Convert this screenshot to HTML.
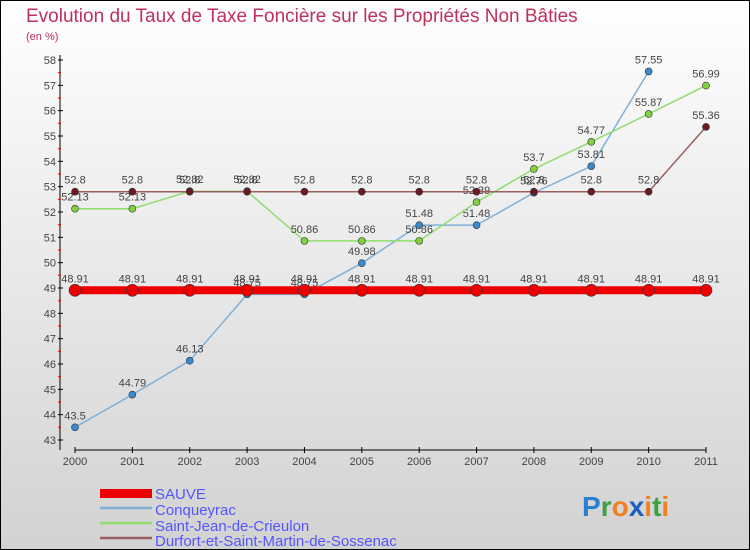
<!DOCTYPE html>
<html><head><meta charset="utf-8"><style>
body{margin:0}
#c{width:750px;height:550px;position:relative;overflow:hidden;font-family:"Liberation Sans",sans-serif}
</style></head><body>
<div id="c">
<svg id="s" width="750" height="550" xmlns="http://www.w3.org/2000/svg">
<defs><linearGradient id="bg" x1="0" y1="0" x2="0" y2="1"><stop offset="0" stop-color="#ffffff"/><stop offset="1" stop-color="#d2d2d2"/></linearGradient></defs>
<rect x="0.5" y="0.5" width="749" height="549" fill="url(#bg)" stroke="#000"/>
<text x="26" y="22" font-size="19" fill="#c0305a">Evolution du Taux de Taxe Foncière sur les Propriétés Non Bâties</text>
<text x="26" y="40" font-size="11" fill="#c0305a">(en %)</text>
<g id="axes"></g><g id="series"></g>
<g>
<rect x="100" y="489" width="52" height="9" fill="#e00"/>
<text x="155" y="499" font-size="15" fill="#5555ff">SAUVE</text>
<line x1="100" y1="508" x2="152" y2="508" stroke="#7fb0d8" stroke-width="2.5"/>
<text x="155" y="515" font-size="15" fill="#5555ff">Conqueyrac</text>
<line x1="100" y1="523" x2="152" y2="523" stroke="#90dd70" stroke-width="2.5"/>
<text x="155" y="531" font-size="15" fill="#5555ff">Saint-Jean-de-Crieulon</text>
<line x1="100" y1="538" x2="152" y2="538" stroke="#9a6060" stroke-width="2.5"/>
<text x="155" y="546" font-size="15" fill="#5555ff">Durfort-et-Saint-Martin-de-Sossenac</text>
</g>
<text x="582" y="516" font-size="28" font-weight="bold"><tspan fill="#2a7fd0">P</tspan><tspan fill="#3aa040">r</tspan><tspan fill="#f08020">o</tspan><tspan fill="#1a60c0">x</tspan><tspan fill="#f08020">i</tspan><tspan fill="#3aa040">t</tspan><tspan fill="#f08020">i</tspan></text>
</svg></div>
<script>
const years=[2000,2001,2002,2003,2004,2005,2006,2007,2008,2009,2010,2011];
const yTicks=[43,44,45,46,47,48,49,50,51,52,53,54,55,56,57,58];
const sauve=[48.91,48.91,48.91,48.91,48.91,48.91,48.91,48.91,48.91,48.91,48.91,48.91];
const conqueyrac=[43.5,44.79,46.13,48.75,48.75,49.98,51.48,51.48,52.76,53.81,57.55,null];
const saintJean=[52.13,52.13,52.82,52.82,50.86,50.86,50.86,52.39,53.7,54.77,55.87,56.99];
const durfort=[52.8,52.8,52.8,52.8,52.8,52.8,52.8,52.8,52.8,52.8,52.8,55.36];
const NS="http://www.w3.org/2000/svg";
const X=i=>75+i*(706-75)/11;
const Y=v=>440-(v-43)*(380/15);
function el(t,a,p){const e=document.createElementNS(NS,t);for(const k in a)e.setAttribute(k,a[k]);p.appendChild(e);return e;}
const ax=document.getElementById('axes');
let yl=el('line',{x1:60,y1:55,x2:60,y2:450,stroke:'#000'},ax);


let xl=el('line',{x1:75,y1:450,x2:706,y2:450,stroke:'#000'},ax);


yTicks.forEach((t,i)=>{
 el('line',{x1:58,x2:63,y1:Y(t),y2:Y(t),stroke:'#000'},ax);
 if(i<yTicks.length-1)el('line',{x1:58,x2:61,y1:Y(t+0.5),y2:Y(t+0.5),stroke:'#e00'},ax);
 const tx=el('text',{x:56,y:Y(t)+4,'font-size':11,'text-anchor':'end',fill:'#444'},ax);
 tx.textContent=t;
 
 
});
years.forEach((yr,i)=>{
 el('line',{x1:X(i),x2:X(i),y1:447,y2:453,stroke:'#000'},ax);
 const tx=el('text',{x:X(i),y:465,'font-size':11,'text-anchor':'middle',fill:'#444'},ax);
 tx.textContent=yr;
 
 
});
const sg=document.getElementById('series');
function draw(data,color,dot,w,r,name){
 const g=el('g',{},sg);
 
 
 let pts=[];data.forEach((v,i)=>{if(v!=null)pts.push(X(i)+','+Y(v));});
 el('polyline',{points:pts.join(' '),fill:'none',stroke:color,'stroke-width':w},g);
 data.forEach((v,i)=>{if(v==null)return;
  const c=el('circle',{cx:X(i),cy:Y(v),r:r,fill:dot,stroke:'#333','stroke-width':0.6},g);
  
  
  const t=el('text',{x:X(i),y:Y(v)-8,'font-size':11,'text-anchor':'middle',fill:'#444'},g);
  t.textContent=v;
 });
}
draw(conqueyrac,'#7fb0d8','#3a8ad0',1.5,3.5,'series-conqueyrac');
draw(saintJean,'#90dd70','#80d040',1.5,3.5,'series-saint-jean');
draw(durfort,'#9a6060','#6a1a20',1.5,3.5,'series-durfort');
draw(sauve,'#e00','#e00',8,6,'series-sauve');
</script>
</body></html>
